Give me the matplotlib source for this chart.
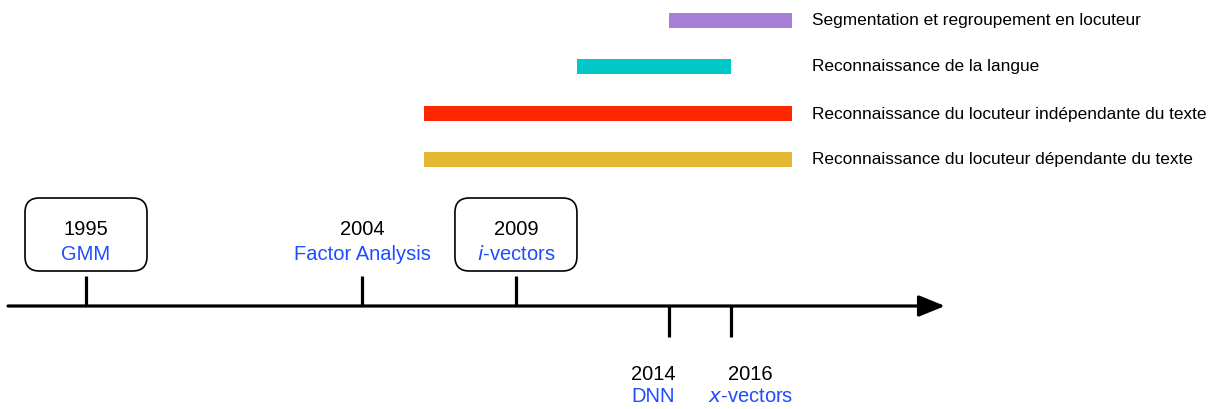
import matplotlib.pyplot as plt
from matplotlib.patches import FancyBboxPatch

plt.rcParams['font.family'] = ['Liberation Sans', 'DejaVu Sans']

# timeline events
ev_years = [1995, 2004, 2009, 2014, 2016]
ev_names = ['GMM', 'Factor Analysis', 'i-vectors', 'DNN', 'x-vectors']
ev_italic = ['', '', 'i', '', 'x']   # italic prefix letter
ev_above = [True, True, True, False, False]
ev_boxed = [True, False, True, False, False]
ev_shift = [0, 0, 0, -16.5, 19.5]    # label shift in px

# application periods
task_labels = ['Segmentation et regroupement en locuteur',
               'Reconnaissance de la langue',
               'Reconnaissance du locuteur indépendante du texte',
               'Reconnaissance du locuteur dépendante du texte']
task_start = [2014, 2011, 2006, 2006]
task_end = [2018, 2016, 2018, 2018]
task_colors = ['#a77fd8', '#00c8c8', '#ff2600', '#e5b834']

BLUE = '#1f4cff'
PX_PER_YEAR = 30.71
x0 = 1995 - 86 / PX_PER_YEAR

fig = plt.figure(figsize=(12.11, 4.10), dpi=100)
ax = fig.add_axes([0, 0, 1, 1])
ax.set_xlim(x0, x0 + 1211 / PX_PER_YEAR)
ax.set_ylim(410, 0)
ax.axis('off')

# bars
rows = [21, 67, 114, 160]
ax.barh(rows, [e - s for s, e in zip(task_start, task_end)], left=task_start,
        height=15, color=task_colors)
for r, lab in zip(rows, task_labels):
    ax.text(x0 + 812 / PX_PER_YEAR, r, lab, fontsize=12.4, va='center', ha='left')

# main axis with arrow
axis_y = 307
ax.annotate('', xy=(x0 + 945 / PX_PER_YEAR, axis_y), xytext=(x0 + 8 / PX_PER_YEAR, axis_y),
            arrowprops=dict(arrowstyle='-|>,head_length=1.6,head_width=0.65',
                            mutation_scale=10, lw=2.3, color='black',
                            shrinkA=0, shrinkB=0))

for yr, name, it, up, boxed, sh in zip(ev_years, ev_names, ev_italic, ev_above,
                                       ev_boxed, ev_shift):
    if up:
        ax.plot([yr, yr], [axis_y, 277], color='black', lw=2.3, solid_capstyle='butt')
        ty, ny = 230, 255
    else:
        ax.plot([yr, yr], [axis_y, 338], color='black', lw=2.3, solid_capstyle='butt')
        ty, ny = 375, 397
    tx = yr + sh / PX_PER_YEAR
    ax.text(tx, ty, str(yr), fontsize=14.5, ha='center', va='center')
    if it:
        ax.text(tx, ny, r'$\mathit{' + it + '}$' + name[1:], fontsize=14.5,
                ha='center', va='center', color=BLUE)
    else:
        ax.text(tx, ny, name, fontsize=14.5, ha='center', va='center', color=BLUE)
    if boxed:
        w = 122 / PX_PER_YEAR
        box = FancyBboxPatch((yr - w / 2, 199), w, 73,
                             boxstyle='round,pad=0,rounding_size=0.47',
                             mutation_aspect=PX_PER_YEAR,
                             fc='none', ec='black', lw=1.2)
        ax.add_patch(box)

fig.savefig('out.png', dpi=100)
